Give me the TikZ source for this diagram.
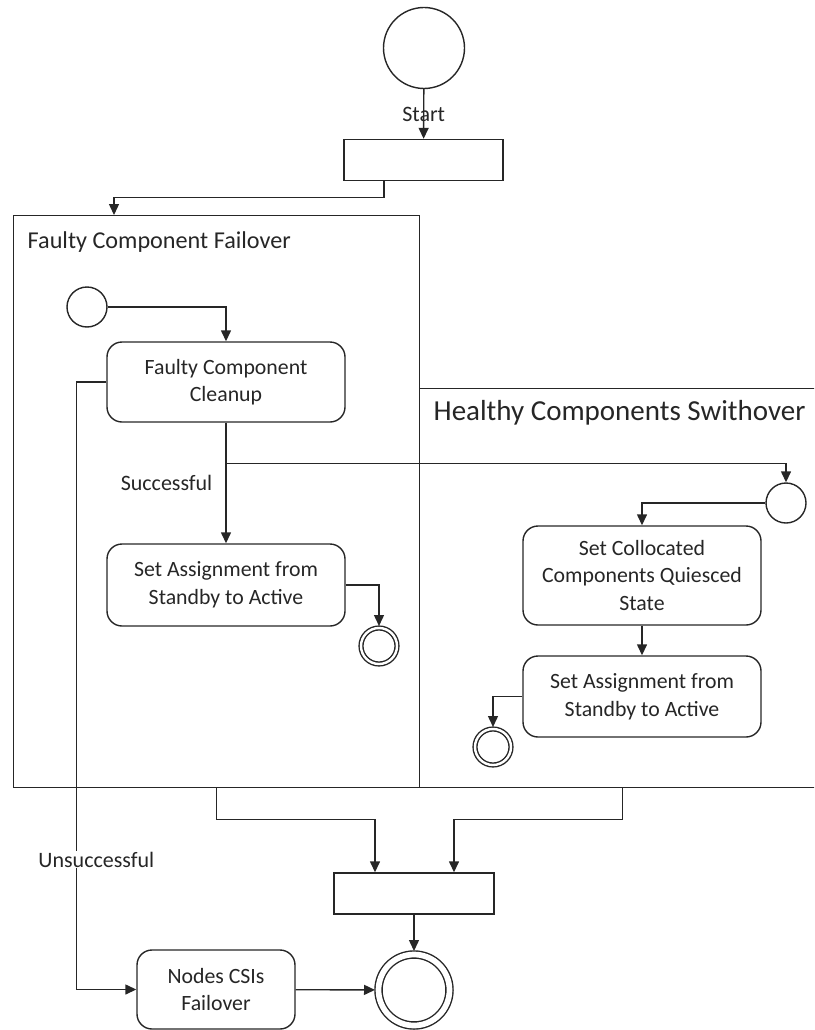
\documentclass[tikz,border=0pt]{standalone}
\usepackage{fontspec}
\setmainfont{Carlito}
\usetikzlibrary{arrows.meta,calc}
\begin{document}
\begin{tikzpicture}[x=1pt,y=-1pt,
  line width=1.4pt,
  ink/.style={draw=black!85, text=black!85},
  arr/.style={draw=black!85, -{Triangle[length=11pt,width=10pt]}},
  act/.style={ink, rounded corners=15pt, align=center, inner sep=0pt,
    minimum width=238pt, font=\fontsize{21.8}{27.5}\selectfont},
  barbox/.style={ink, rectangle, inner sep=0pt, minimum height=41pt},
  initc/.style={ink, circle, inner sep=0pt},
  finc/.style={ink, circle, double, inner sep=0pt},
  cont/.style={ink, rectangle, inner sep=0pt, anchor=north west},
  lbl/.style={text=black!85, inner sep=1pt, font=\fontsize{22}{26}\selectfont}
]
\useasboundingbox (0,0) rectangle (814,1030);
\clip (0,0) rectangle (814,1030);

% containers
\node[cont, minimum width=406pt, minimum height=572pt] (faulty) at (13,215) {};
\node[cont, minimum width=406pt, minimum height=399pt] (healthy) at (419,388) {};
\node[lbl, anchor=west, font=\fontsize{24.2}{29}\selectfont] (ftitle) at (26,242) {Faulty Component Failover};
\node[lbl, anchor=west, font=\fontsize{29}{34}\selectfont] (htitle) at (432,413) {Healthy Components Swithover};

% top
\node[initc, minimum size=81pt] (s0) at (424,48) {};
\node[barbox, minimum width=159pt] (fork) at (423.5,160) {};
\draw[arr] (s0) -- node[lbl] {Start} (fork);
\draw[arr] ([xshift=-39.5pt]fork.south) -- ++(0,16) -| ([xshift=101pt]faulty.north west);

% faulty component failover
\node[initc, minimum size=40pt] (s1) at (87,307) {};
\node[act, minimum height=80pt] (clean) at (226,382) {Faulty Component\\Cleanup};
\node[act, minimum height=82pt] (assignL) at (226,585) {Set Assignment from\\Standby to Active};
\node[finc, minimum size=36pt, double distance=2.4pt, outer sep=2pt] (eL) at (379,646) {};
\draw[arr] (s1) -| (clean.north);
\draw[arr] (clean) -- node[lbl, left=12pt] {Successful} (assignL);
\draw[arr] (assignL.east) -| (eL.north);
\coordinate (br) at ([yshift=-41pt]clean.south);

% healthy components switchover
\node[initc, minimum size=40pt] (s2) at (786,503) {};
\node[act, minimum height=99pt] (coll) at (642,575.5) {Set Collocated\\Components Quiesced\\State};
\node[act, minimum height=81pt] (assignR) at (642,696.5) {Set Assignment from\\Standby to Active};
\node[finc, minimum size=36pt, double distance=2.4pt, outer sep=2pt] (eR) at (493,747) {};
\draw[arr] (br) -| (s2.north);
\draw[arr] (s2.west) -| (coll.north);
\draw[arr] (coll) -- (assignR);
\draw[arr] (assignR.west) -| (eR.north);

% bottom
\node[barbox, minimum width=160pt] (join) at (414,893.5) {};
\node[finc, minimum size=71pt, double distance=5.7pt, outer sep=3.5pt] (eF) at (414,990) {};
\node[act, minimum width=158pt, minimum height=79pt] (nodes) at (216,989.5) {Nodes CSIs\\Failover};
\draw[arr] (faulty.south) -- ++(0,31) -| ([xshift=-39pt]join.north);
\draw[arr] (healthy.south) -- ++(0,31) -| ([xshift=40pt]join.north);
\draw[arr] (join) -- (eF);
\draw[arr] (clean.west) -- ++(-30,0) |- (nodes.west)
  node[lbl, pos=0.393, xshift=20pt, fill=white] {Unsuccessful};
\draw[arr] (nodes) -- (eF);
\end{tikzpicture}
\end{document}
